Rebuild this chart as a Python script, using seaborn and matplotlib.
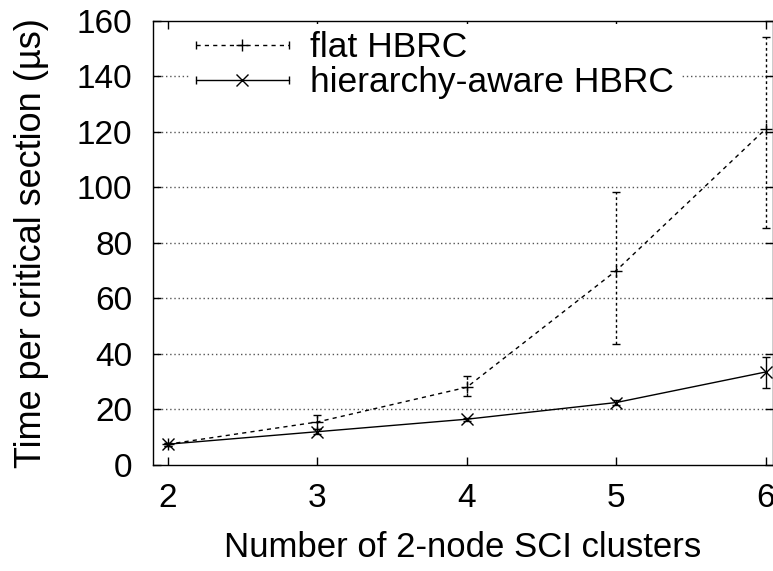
import matplotlib
matplotlib.use("Agg")
import matplotlib.pyplot as plt
from matplotlib.legend_handler import HandlerBase
from matplotlib.lines import Line2D
import seaborn as sns
import pandas as pd

# values
clusters = [2, 3, 4, 5, 6]
flat_mean = [7.5, 15.5, 28.0, 70.0, 121.0]
flat_low = [7.0, 13.0, 25.0, 43.5, 85.5]
flat_high = [8.0, 18.0, 32.0, 98.5, 154.0]
hier_mean = [7.5, 12.0, 16.5, 22.5, 33.5]
hier_low = [7.0, 11.0, 16.0, 21.5, 27.7]
hier_high = [8.0, 13.0, 17.0, 23.5, 39.0]
series_names = ["flat HBRC", "hierarchy-aware HBRC"]
y_ticks = [0, 20, 40, 60, 80, 100, 120, 140, 160]

DASH = (0, (3, 3))


class ErrKeyHandler(HandlerBase):
    # gnuplot style key: line with caps at both ends and marker in the middle
    def __init__(self, marker, ls):
        super().__init__()
        self.marker = marker
        self.ls = ls

    def create_artists(self, legend, orig_handle, xdescent, ydescent,
                       width, height, fontsize, trans):
        y = height / 2 - ydescent
        x0, x1 = -xdescent, width - xdescent
        line = Line2D([x0, x1], [y, y], color="black", lw=1, linestyle=self.ls)
        caps = Line2D([x0, x1], [y, y], color="black", lw=0, marker="|",
                      markersize=6, markeredgewidth=1)
        mid = Line2D([(x0 + x1) / 2], [y], color="black", lw=0,
                     marker=self.marker, markersize=8, markeredgewidth=1)
        for a in (line, caps, mid):
            a.set_transform(trans)
        return [line, caps, mid]


sns.set_theme(style="ticks")
plt.rcParams["font.family"] = ["Liberation Sans", "DejaVu Sans"]
plt.rcParams["text.color"] = "black"
plt.rcParams["axes.labelcolor"] = "black"

df = pd.DataFrame({
    "clusters": clusters * 2,
    "time": flat_mean + hier_mean,
    "variant": [series_names[0]] * 5 + [series_names[1]] * 5,
})

fig = plt.figure(figsize=(7.73, 5.71), dpi=100)
ax = fig.add_axes([0.198, 0.1856, 0.802, 0.778])

for y in y_ticks[1:-1]:
    ax.axhline(y, color="#555555", lw=1, linestyle=(0, (1, 2)), zorder=0)

sns.lineplot(data=df, x="clusters", y="time", hue="variant", style="variant",
             palette=["black", "black"], dashes=[(3, 3), ""],
             markers=["+", "x"], markersize=8, markeredgewidth=1,
             markeredgecolor="black", lw=1, legend=False, ax=ax)

flat_err = [[m - lo for m, lo in zip(flat_mean, flat_low)],
            [hi - m for m, hi in zip(flat_mean, flat_high)]]
hier_err = [[m - lo for m, lo in zip(hier_mean, hier_low)],
            [hi - m for m, hi in zip(hier_mean, hier_high)]]
eb = ax.errorbar(clusters, flat_mean, yerr=flat_err, fmt="none", ecolor="black",
                 elinewidth=1, capsize=3, capthick=1)
eb[2][0].set_linestyle((0, (2, 2)))
ax.errorbar(clusters, hier_mean, yerr=hier_err, fmt="none", ecolor="black",
            elinewidth=1, capsize=3, capthick=1)

ax.set_xlim(1.9, 6.05)
ax.set_ylim(0, 160)
ax.set_xticks(clusters)
ax.set_yticks(y_ticks)
ax.tick_params(direction="in", length=6, width=1, top=True, right=True,
               labelsize=24, colors="black")
ax.tick_params(axis="y", pad=15)
ax.tick_params(axis="x", pad=13)
for s in ax.spines.values():
    s.set_color("black")
    s.set_linewidth(1)

ax.set_xlabel("Number of 2-node SCI clusters", fontsize=25, labelpad=12)
ax.set_ylabel("Time per critical section (µs)", fontsize=26, labelpad=20)

h1 = Line2D([], [])
h2 = Line2D([], [])
leg = ax.legend([h1, h2], [n + "      " for n in series_names[:1]] + series_names[1:],
                loc="upper left",
                bbox_to_anchor=(0.03, 1.032), fontsize=25.5, frameon=True,
                handlelength=2.6, handletextpad=0.6, labelspacing=0.05,
                borderpad=0.2,
                handler_map={h1: ErrKeyHandler("+", DASH),
                             h2: ErrKeyHandler("x", "-")})
leg.get_frame().set_facecolor("white")
leg.get_frame().set_edgecolor("none")
leg.get_frame().set_alpha(1)

fig.savefig("out.png", dpi=100)
